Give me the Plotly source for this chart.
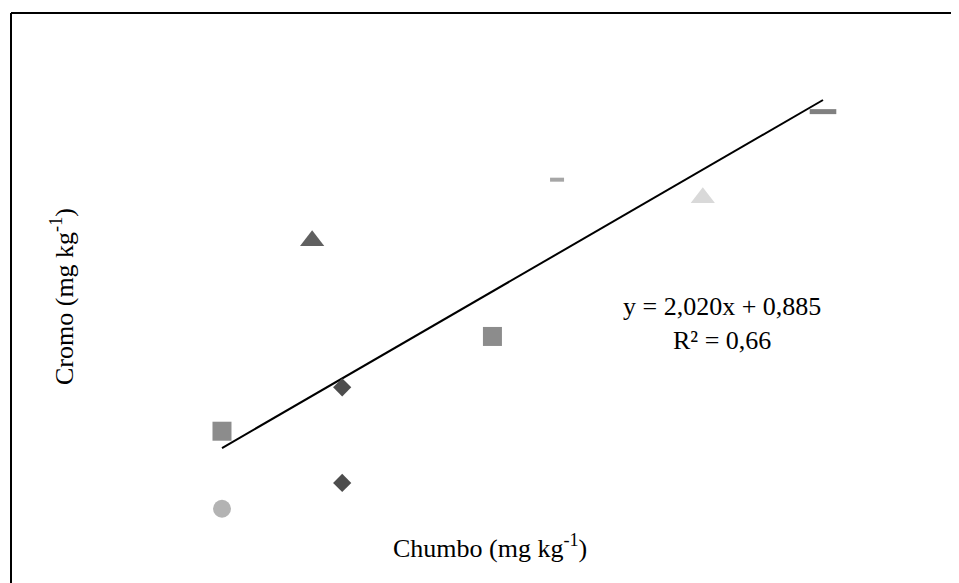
import plotly.graph_objects as go

# Data (Chumbo x, Cromo y), grouped by marker style
circle_x = [0.50]
circle_y = [1.19]
square_x = [0.50, 1.40]
square_y = [2.09, 3.19]
diamond_x = [0.90, 0.90]
diamond_y = [1.49, 2.60]
tri_dark_x = [0.80]
tri_dark_y = [4.30]
tri_light_x = [2.10]
tri_light_y = [4.80]
dash_small_x = [1.615]
dash_small_y = [5.01]
dash_big_x = [2.50]
dash_big_y = [5.80]

slope = 2.020
intercept = 0.885
r2_text = "0,66"
trend_x = [0.50, 2.50]
trend_y = [slope * v + intercept for v in trend_x]

W, H = 959, 583
OX, OY = 8, 8  # page body offset

def px(x):
    return (x - OX) / W

def py(y):
    return 1 - (y - OY) / H

fig = go.Figure()

fig.add_trace(go.Scatter(x=trend_x, y=trend_y, mode="lines",
                         line=dict(color="black", width=2), showlegend=False))
fig.add_trace(go.Scatter(x=circle_x, y=circle_y, mode="markers",
                         marker=dict(symbol="circle", size=18, color="#b3b3b3"), showlegend=False))
fig.add_trace(go.Scatter(x=square_x, y=square_y, mode="markers",
                         marker=dict(symbol="square", size=19, color="#8c8c8c"), showlegend=False))
fig.add_trace(go.Scatter(x=diamond_x, y=diamond_y, mode="markers",
                         marker=dict(symbol="diamond", size=14, color="#4d4d4d"), showlegend=False))
fig.add_trace(go.Scatter(x=tri_dark_x, y=tri_dark_y, mode="markers",
                         marker=dict(symbol="triangle-up", size=21, color="#606060"), showlegend=False))
fig.add_trace(go.Scatter(x=tri_light_x, y=tri_light_y, mode="markers",
                         marker=dict(symbol="triangle-up", size=21, color="#d9d9d9"), showlegend=False))
fig.add_trace(go.Scatter(x=dash_small_x, y=dash_small_y, mode="markers",
                         marker=dict(symbol="line-ew", size=10, color="#a6a6a6",
                                     line=dict(color="#a6a6a6", width=4)), showlegend=False))
fig.add_trace(go.Scatter(x=dash_big_x, y=dash_big_y, mode="markers",
                         marker=dict(symbol="line-ew", size=19, color="#808080",
                                     line=dict(color="#808080", width=5)), showlegend=False))

font = "Liberation Serif, Times New Roman, serif"

def ann(text, x, y, **kw):
    d = dict(text=text, x=px(x), y=py(y), xref="paper", yref="paper",
             xanchor="center", yanchor="middle", showarrow=False,
             font=dict(family=font, size=26, color="black"))
    d.update(kw)
    return d

fig.update_layout(
    width=W, height=H,
    margin=dict(l=0, r=0, t=0, b=0),
    paper_bgcolor="white", plot_bgcolor="white",
    xaxis=dict(range=[-0.2121, 2.9792], visible=False),
    yaxis=dict(range=[0.235, 7.003], visible=False),
    annotations=[
        ann("y = 2,020x + 0,885<br>R² = " + r2_text, 722, 323, align="center"),
        ann("Chumbo (mg kg<sup>-1</sup>)", 490, 546),
        ann("Cromo (mg kg<sup>-1</sup>)", 62, 297, textangle=-90),
    ],
    shapes=[
        dict(type="line", xref="paper", yref="paper", x0=px(11), x1=px(11), y0=0, y1=py(13),
             line=dict(color="black", width=2)),
        dict(type="line", xref="paper", yref="paper", x0=px(11), x1=1, y0=py(13), y1=py(13),
             line=dict(color="black", width=2)),
    ],
)

fig.write_html("out.html")
